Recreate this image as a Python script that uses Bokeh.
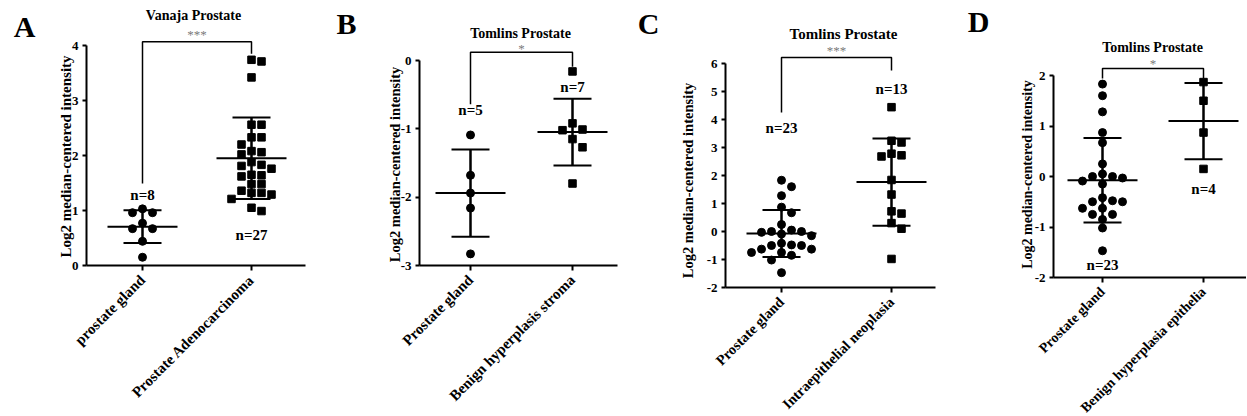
import math
import numpy as np
from bokeh.plotting import figure
from bokeh.layouts import row
from bokeh.models import Range1d, FixedTicker, Label
from bokeh.embed import file_html
from bokeh.resources import INLINE
from bokeh.core.properties import value

FONT = "Liberation Serif"

# ---------------- data ----------------
# A: Vanaja Prostate
a_title = "Vanaja Prostate"
a_categories = ["prostate gland", "Prostate Adenocarcinoma"]
a_gland = [1.03, 0.96, 0.96, 0.77, 0.67, 0.67, 0.44, 0.15]
a_adeno = [3.74, 3.71, 3.42, 2.56, 2.56, 2.33, 2.33, 2.20, 2.08, 2.06, 2.02,
           1.88, 1.83, 1.81, 1.76, 1.65, 1.64, 1.62, 1.48, 1.48, 1.36, 1.32,
           1.32, 1.29, 1.21, 1.05, 0.99]
a_sig = "***"

# B: Tomlins Prostate (stroma)
b_title = "Tomlins Prostate"
b_categories = ["Prostate gland", "Benign hyperplasis stroma"]
b_gland = [-1.09, -1.68, -1.94, -2.16, -2.83]
b_stroma = [-0.16, -0.92, -1.01, -1.02, -1.15, -1.27, -1.80]
b_sig = "*"

# C: Tomlins Prostate (PIN)
c_title = "Tomlins Prostate"
c_categories = ["Prostate gland", "Intraepithelial neoplasia"]
c_gland = [1.83, 1.60, 1.28, 0.87, 0.67, 0.25, 0.05, 0.00, 0.00, -0.03, -0.09,
           -0.15, -0.42, -0.48, -0.50, -0.50, -0.63, -0.63, -0.75, -0.75, -0.85,
           -1.02, -1.47]
c_pin = [4.44, 3.24, 3.18, 2.78, 2.72, 2.68, 1.84, 1.32, 0.72, 0.64, 0.30, 0.10, -0.98]
c_sig = "***"

# D: Tomlins Prostate (BPH epithelia)
d_title = "Tomlins Prostate"
d_categories = ["Prostate gland", "Benign hyperplasia epithelia"]
d_gland = [1.83, 1.60, 1.28, 0.87, 0.67, 0.25, 0.05, 0.00, 0.00, -0.03, -0.09,
           -0.15, -0.42, -0.48, -0.50, -0.50, -0.63, -0.63, -0.75, -0.75, -0.85,
           -1.02, -1.47]
d_bph = [1.87, 1.50, 0.87, 0.15]
d_sig = "*"

FH = 414
TOP = 0   # Bokeh's page template has no body margin


def swarm(vals, ppy, col_px=10.0, min_dy=8.5):
    vals = np.asarray(vals, dtype=float)
    order = np.argsort(-vals, kind="stable")
    placed = []
    cols = np.zeros(len(vals))
    for i in order:
        y = vals[i] * ppy
        for k in [0, 1, -1, 2, -2, 3, -3, 4, -4, 5, -5]:
            if all(abs(y - py) >= min_dy for c, py in placed if c == k):
                break
        placed.append((k, y))
        cols[i] = k
    return cols * col_px


def build(spec):
    # layout given in page pixels; the frame covers the whole canvas and
    # the axes are pinned inside it with fixed_location
    fl = spec["fig_left"]
    fw = spec["width"]
    t1, t2 = spec["t1"], spec["t2"]
    ylo, yhi = spec["ylim"]
    ylo_px, yhi_px = spec["ylo_px"], spec["yhi_px"]
    ppx = float(t2 - t1)
    ppy = (ylo_px - yhi_px) / float(yhi - ylo)

    def X(sx):
        return 1 + (sx - t1) / ppx

    def Y(sy):
        return ylo + (ylo_px - sy) / ppy

    p = figure(width=fw, height=FH,
               x_range=Range1d(X(fl), X(fl + fw)),
               y_range=Range1d(Y(TOP + FH), Y(TOP)),
               output_backend="svg", toolbar_location=None,
               min_border=0, min_border_left=0, min_border_right=0,
               min_border_top=0, min_border_bottom=0)
    p.xgrid.visible = False
    p.ygrid.visible = False
    p.outline_line_color = None
    p.background_fill_color = "white"
    p.border_fill_color = "white"

    ax_x0 = X(spec["ax_left"])
    ax_x1 = X(spec["ax_right"])

    cats = spec["cats"]
    xa = p.xaxis[0]
    xa.fixed_location = ylo
    xa.bounds = (ax_x0, ax_x1)
    xa.ticker = FixedTicker(ticks=[1, 2])
    xa.major_label_overrides = {1: cats[0], 2: cats[1]}
    xa.major_label_orientation = math.pi / 4
    xa.major_label_text_font = FONT
    xa.major_label_text_font_style = "bold"
    xa.major_label_text_font_size = spec["xfs"]
    xa.major_label_text_color = "black"
    xa.major_label_standoff = 7
    xa.axis_line_width = 2
    xa.axis_line_color = "black"
    xa.major_tick_line_width = 2
    xa.major_tick_line_color = "black"
    xa.major_tick_out = 5
    xa.major_tick_in = 0
    xa.minor_tick_out = 0
    xa.minor_tick_in = 0

    ya = p.yaxis[0]
    yt = list(range(ylo, yhi + 1))
    ya.fixed_location = ax_x0
    ya.ticker = FixedTicker(ticks=yt)
    ya.major_label_overrides = {t: str(t) for t in yt}
    ya.bounds = (ylo, yhi)
    ya.major_label_text_font = FONT
    ya.major_label_text_font_style = "bold"
    ya.major_label_text_font_size = "13px"
    ya.major_label_text_color = "black"
    ya.major_label_standoff = 4
    ya.axis_line_width = 2
    ya.axis_line_color = "black"
    ya.major_tick_line_width = 2
    ya.major_tick_line_color = "black"
    ya.major_tick_out = 4
    ya.major_tick_in = 0
    ya.minor_tick_out = 0
    ya.minor_tick_in = 0

    # groups: scatter + mean line + SD whiskers
    mean_half = 35.0 / ppx
    cap_half = 19.0 / ppx
    for gi, (vals, marker, msize) in enumerate([(spec["g1"], "circle", 8), (spec["g2"], "square", 7.5)]):
        cx = gi + 1
        vals = np.asarray(vals, dtype=float)
        offs = swarm(vals, ppy)
        p.scatter(cx + offs / ppx, vals, marker=marker, size=msize,
                  fill_color="black", line_color="black")
        m = vals.mean()
        sd = vals.std(ddof=1)
        p.segment(x0=[cx - mean_half], y0=[m], x1=[cx + mean_half], y1=[m],
                  line_color="black", line_width=2)
        p.segment(x0=[cx], y0=[m - sd], x1=[cx], y1=[m + sd],
                  line_color="black", line_width=2.5)
        p.segment(x0=[cx - cap_half, cx - cap_half], y0=[m - sd, m + sd],
                  x1=[cx + cap_half, cx + cap_half], y1=[m - sd, m + sd],
                  line_color="black", line_width=2)

    # significance bracket
    by, lb, rb, sy = spec["bracket"]
    p.line(x=[1, 1, 2, 2], y=[lb, by, by, rb], line_color="black", line_width=1.5)
    p.text(x=[1.5], y=[sy], text=[spec["sig"]], text_font=value(FONT),
           text_font_size="13px", text_color="#7a7a7a",
           text_align="center", text_baseline="middle")

    # n labels
    n1y, n2y = spec["nlab"]
    p.text(x=[1, 2], y=[n1y, n2y],
           text=["n=%d" % len(spec["g1"]), "n=%d" % len(spec["g2"])],
           text_font=value(FONT), text_font_style="bold", text_font_size="15px",
           text_color="black", text_align="center", text_baseline="middle")

    # panel letter, title, y-axis label
    lx, lyy = spec["letter_pos"]
    p.add_layout(Label(x=X(lx), y=Y(lyy), text=spec["letter"], text_font=FONT,
                       text_font_style="bold", text_font_size="30px", text_color="black",
                       text_align="center", text_baseline="middle"))
    tx, ty = spec["title_pos"]
    p.add_layout(Label(x=X(tx), y=Y(ty), text=spec["title"], text_font=FONT,
                       text_font_style="bold", text_font_size=spec["tfs"], text_color="black",
                       text_align="center", text_baseline="middle"))
    yx, yy = spec["ylab_pos"]
    p.add_layout(Label(x=X(yx), y=Y(yy), text="Log2 median-centered intensity", text_font=FONT,
                       text_font_style="bold", text_font_size=spec["yfs"], text_color="black",
                       angle=math.pi / 2, text_align="center", text_baseline="middle"))
    return p


pA = build(dict(fig_left=0, width=320, ax_left=86, ax_right=305, t1=142, t2=251,
                ylim=(0, 4), ylo_px=265, yhi_px=45, cats=a_categories,
                g1=a_gland, g2=a_adeno, sig=a_sig, title=a_title, letter="A",
                bracket=(4.07, 1.49, 3.85, 4.2), nlab=(1.29, 0.55),
                letter_pos=(24, 26), title_pos=(193, 15), ylab_pos=(65, 156),
                xfs="15px", tfs="14px", yfs="15px"))
pB = build(dict(fig_left=320, width=300, ax_left=419, ax_right=617, t1=470, t2=572,
                ylim=(-3, 0), ylo_px=265, yhi_px=60, cats=b_categories,
                g1=b_gland, g2=b_stroma, sig=b_sig, title=b_title, letter="B",
                bracket=(0.12, -0.64, -0.09, 0.18), nlab=(-0.73, -0.39),
                letter_pos=(346, 23), title_pos=(520, 33), ylab_pos=(394, 164),
                xfs="15px", tfs="14px", yfs="14.5px"))
pC = build(dict(fig_left=620, width=320, ax_left=725, ax_right=935, t1=781, t2=891,
                ylim=(-2, 6), ylo_px=287, yhi_px=63, cats=c_categories,
                g1=c_gland, g2=c_pin, sig=c_sig, title=c_title, letter="C",
                bracket=(6.21, 4.25, 5.75, 6.46), nlab=(3.71, 5.1),
                letter_pos=(648, 23), title_pos=(843, 33), ylab_pos=(687, 180),
                xfs="14.5px", tfs="15px", yfs="14.5px"))
pD = build(dict(fig_left=940, width=306, ax_left=1053, ax_right=1246, t1=1102, t2=1203,
                ylim=(-2, 2), ylo_px=277, yhi_px=75, cats=d_categories,
                g1=d_gland, g2=d_bph, sig=d_sig, title=d_title, letter="D",
                bracket=(2.14, 1.94, 1.94, 2.24), nlab=(-1.75, -0.24),
                letter_pos=(978, 21), title_pos=(1152, 47), ylab_pos=(1027, 174),
                xfs="14px", tfs="14px", yfs="14px"))

layout = row(pA, pB, pC, pD)
open("out.html", "w").write(file_html(layout, INLINE))
